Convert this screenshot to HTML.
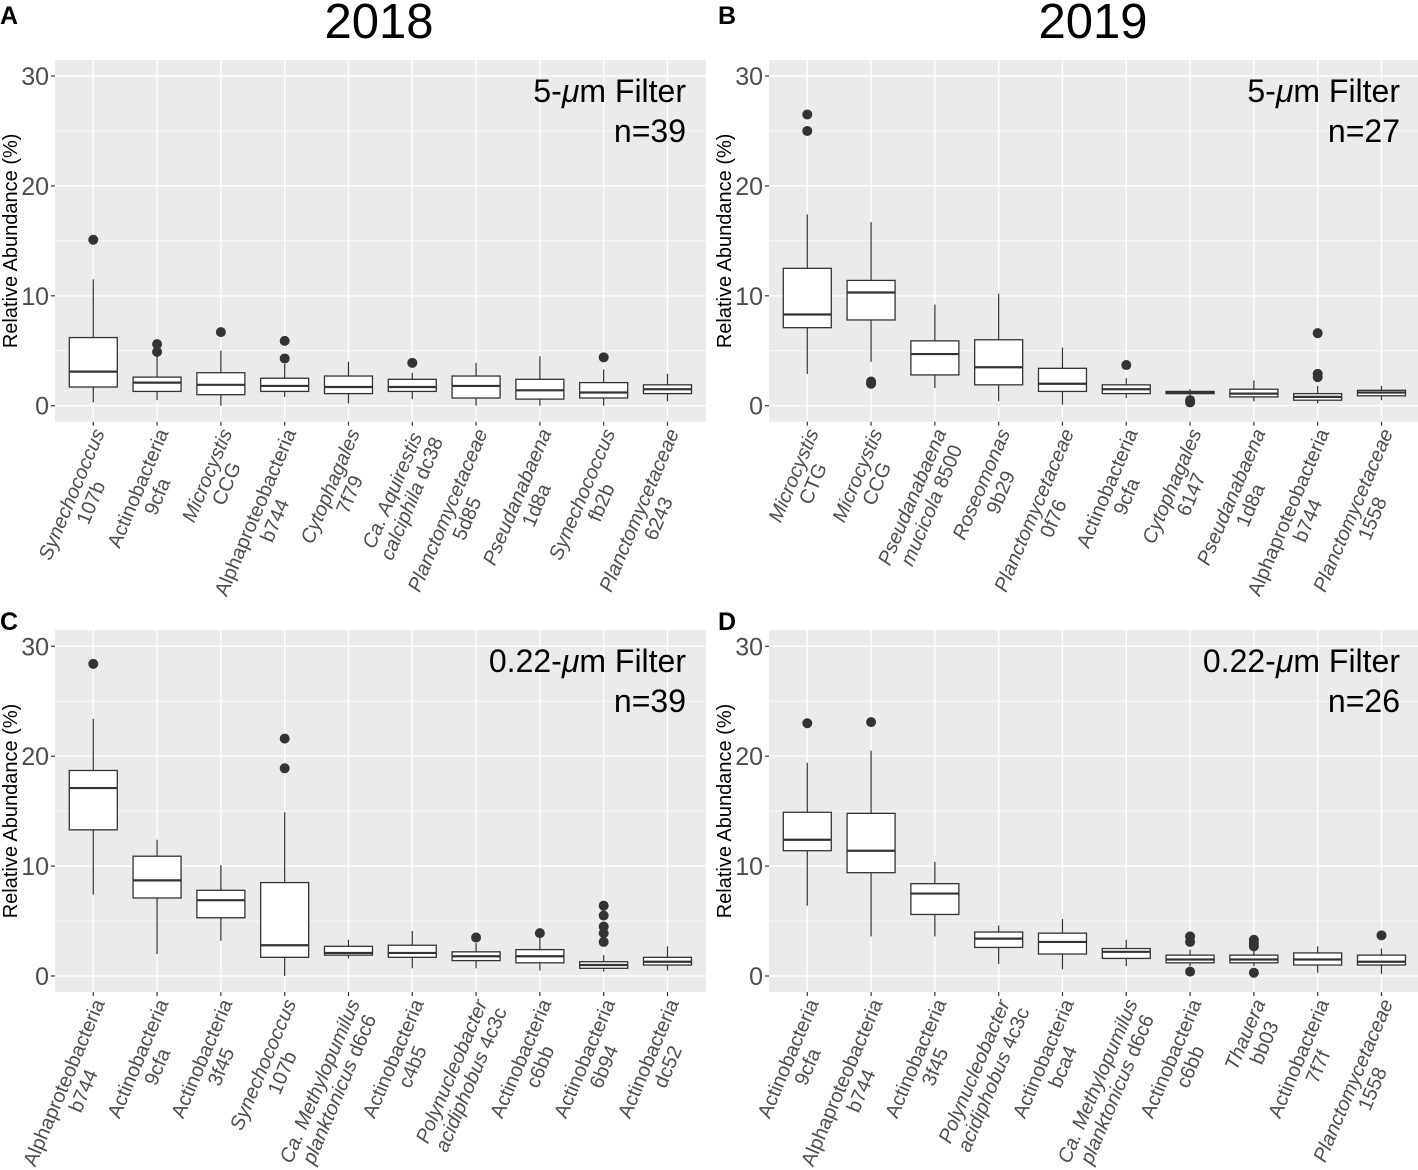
<!DOCTYPE html>
<html><head><meta charset="utf-8"><style>
body{margin:0;background:#fff}
svg{display:block}
text{font-family:"Liberation Sans",Arial,sans-serif}
</style></head><body>
<svg id="fig" width="1418" height="1170" xmlns="http://www.w3.org/2000/svg"></svg>
<script>
// Panel A data (2018, 5-um)
const catsA = [["Synechococcus|i","107b"],["Actinobacteria","9cfa"],["Microcystis|i","CCG"],["Alphaproteobacteria","b744"],["Cytophagales|i","7f79"],["Ca. Aquirestis|i","calciphila|i dc38"],["Planctomycetaceae|i","5d85"],["Pseudanabaena|i","1d8a"],["Synechococcus|i","fb2b"],["Planctomycetaceae|i","6243"]];
const q1A = [1.7,1.3,1.0,1.3,1.1,1.3,0.7,0.6,0.7,1.1];
const medA = [3.1,2.1,1.9,1.8,1.7,1.7,1.8,1.4,1.2,1.5];
const q3A = [6.2,2.6,3.0,2.5,2.7,2.4,2.7,2.4,2.1,1.9];
const loA = [0.3,0.5,0,0.8,0.2,0.6,0,0,0,0.4];
const hiA = [11.5,4.6,5.0,3.8,4.0,3.0,3.9,4.5,3.3,2.9];
const outA = [[15.1],[5.6,4.9],[6.7],[5.9,4.3],[],[3.9],[],[],[4.4],[]];
// Panel B data (2019, 5-um)
const catsB = [["Microcystis|i","CTG"],["Microcystis|i","CCG"],["Pseudanabaena|i","mucicola|i 8500"],["Roseomonas|i","9b29"],["Planctomycetaceae|i","0f76"],["Actinobacteria","9cfa"],["Cytophagales|i","6147"],["Pseudanabaena|i","1d8a"],["Alphaproteobacteria","b744"],["Planctomycetaceae|i","1558"]];
const q1B = [7.1,7.8,2.8,1.9,1.3,1.1,1.1,0.8,0.5,0.9];
const medB = [8.3,10.3,4.7,3.5,2.0,1.5,1.2,1.1,0.8,1.2];
const q3B = [12.5,11.4,5.9,6.0,3.4,1.9,1.3,1.5,1.1,1.4];
const loB = [2.9,4.0,1.6,0.4,0.1,0.7,0.9,0.4,0.2,0.5];
const hiB = [17.4,16.7,9.2,10.2,5.3,2.5,1.5,2.3,1.8,1.8];
const outB = [[26.5,25.0],[2.2,2.0],[],[],[],[3.7],[0.5,0.3],[],[6.6,2.9,2.6],[]];
// Panel C data (2018, 0.22-um)
const catsC = [["Alphaproteobacteria","b744"],["Actinobacteria","9cfa"],["Actinobacteria","3f45"],["Synechococcus|i","107b"],["Ca. Methylopumilus|i","planktonicus|i d6c6"],["Actinobacteria","c4b5"],["Polynucleobacter|i","acidiphobus|i 4c3c"],["Actinobacteria","c6bb"],["Actinobacteria","6b94"],["Actinobacteria","dc52"]];
const q1C = [13.3,7.1,5.3,1.7,1.9,1.7,1.4,1.2,0.7,1.0];
const medC = [17.1,8.7,6.9,2.8,2.1,2.1,1.8,1.8,1.0,1.3];
const q3C = [18.7,10.9,7.8,8.5,2.7,2.8,2.2,2.4,1.3,1.7];
const loC = [7.4,2.0,3.2,0,1.6,0.7,0.7,0.5,0.4,0.5];
const hiC = [23.4,12.4,10.1,14.9,3.3,4.1,3.0,3.5,1.9,2.7];
const outC = [[28.4],[],[],[21.6,18.9],[],[],[3.5],[3.9],[6.4,5.5,4.5,3.9,3.1],[]];
// Panel D data (2019, 0.22-um)
const catsD = [["Actinobacteria","9cfa"],["Alphaproteobacteria","b744"],["Actinobacteria","3f45"],["Polynucleobacter|i","acidiphobus|i 4c3c"],["Actinobacteria","bca4"],["Ca. Methylopumilus|i","planktonicus|i d6c6"],["Actinobacteria","c6bb"],["Thauera|i","bb03"],["Actinobacteria","7f7f"],["Planctomycetaceae|i","1558"]];
const q1D = [11.4,9.4,5.6,2.6,2.0,1.6,1.2,1.2,1.0,1.0];
const medD = [12.4,11.4,7.5,3.4,3.1,2.2,1.5,1.5,1.5,1.3];
const q3D = [14.9,14.8,8.4,4.0,3.9,2.5,1.9,1.9,2.1,1.9];
const loD = [6.4,3.6,3.6,1.1,0.6,0.9,0.9,0.9,0.3,0.2];
const hiD = [19.4,20.5,10.4,4.6,5.2,3.3,2.4,2.3,2.7,2.5];
const outD = [[23.0],[23.1],[],[],[],[],[3.6,3.1,0.4],[3.3,3.0,2.7,0.3],[],[3.7]];
const yTicks = [0,10,20,30];

const NS="http://www.w3.org/2000/svg";
const svg=document.getElementById('fig');
function mk(tag,attrs,parent){const e=document.createElementNS(NS,tag);for(const k in attrs)e.setAttribute(k,attrs[k]);(parent||svg).appendChild(e);return e;}

function panel(id,left,top,zeroY,cats,q1,med,q3,lo,hi,out,filt,n){
  const g=mk('g',{});
  
  
  const step=63.8, pw=651, bottom=zeroY+16, ppu=10.99;
  const x=i=>left+step*(0.6+i);
  const y=v=>zeroY-v*ppu;
  const bg=mk('rect',{x:left,y:top,width:pw,height:bottom-top,fill:'#ebebeb'},g);
  
  
  [5,15,25].forEach(v=>mk('line',{x1:left,x2:left+pw,y1:y(v),y2:y(v),stroke:'#fff','stroke-width':0.7},g));
  yTicks.forEach(v=>{
    mk('line',{x1:left,x2:left+pw,y1:y(v),y2:y(v),stroke:'#fff','stroke-width':1.4},g);
    mk('line',{x1:left-4,x2:left,y1:y(v),y2:y(v),stroke:'#333','stroke-width':1.2},g);
    const t=mk('text',{x:left-6,y:y(v)+9,'text-anchor':'end','font-size':25,fill:'#4d4d4d'},g);
    t.textContent=v;
    
    
  });
  cats.forEach((c,i)=>mk('line',{x1:x(i),x2:x(i),y1:top,y2:bottom,stroke:'#fff','stroke-width':1.4},g));
  const yt=mk('text',{x:0,y:0,'text-anchor':'middle','font-size':20,fill:'#000',transform:`translate(${left-38},${(top+bottom)/2}) rotate(-90)`},g);
  yt.textContent='Relative Abundance (%)';
  
  
  cats.forEach((c,i)=>{
    const bx=x(i), hw=24;
    const bg2=mk('g',{},g);
    
    
    mk('line',{x1:bx,x2:bx,y1:y(hi[i]),y2:y(q3[i]),stroke:'#333','stroke-width':1.2},bg2);
    mk('line',{x1:bx,x2:bx,y1:y(q1[i]),y2:y(lo[i]),stroke:'#333','stroke-width':1.2},bg2);
    mk('rect',{x:bx-hw,y:y(q3[i]),width:2*hw,height:y(q1[i])-y(q3[i]),fill:'#fff',stroke:'#333','stroke-width':1.3},bg2);
    mk('line',{x1:bx-hw,x2:bx+hw,y1:y(med[i]),y2:y(med[i]),stroke:'#333','stroke-width':2.2},bg2);
    out[i].forEach(v=>{const d=mk('circle',{cx:bx,cy:y(v),r:5,fill:'#333'},bg2);
      
      });
    mk('line',{x1:bx,x2:bx,y1:bottom,y2:bottom+4,stroke:'#333','stroke-width':1.2},g);
    const t=mk('text',{'text-anchor':'middle','font-size':20,fill:'#4d4d4d',transform:`translate(${bx-2},${bottom+5}) rotate(-67)`},g);
    
    
    const lines=[];
    c.forEach((line,li)=>{
      const ts=mk('tspan',{x:0,y:15+li*21},t);
      const parts=line.split(' ');
      let segs=[];
      if(line.startsWith('Ca. ')){segs.push([line.replace('|i',''),true]);}
      else parts.forEach((p,pi)=>{const it=p.endsWith('|i');segs.push([(pi?' ':'')+p.replace('|i',''),it]);});
      segs.forEach(s=>{const sp=mk('tspan',{'font-style':s[1]?'italic':'normal'},ts);sp.textContent=s[0];});
      lines.push(ts);
    });
    let mw=0;lines.forEach(l=>{mw=Math.max(mw,l.getComputedTextLength());});
    lines.forEach(l=>l.setAttribute('x',-mw/2));
  });
  const fx=left+pw-20;
  const f1=mk('text',{x:fx,y:top+42,'text-anchor':'end','font-size':32,fill:'#000'},g);
  
  
  f1.innerHTML=filt+'-<tspan font-style="italic">μ</tspan>m Filter';
  const f2=mk('text',{x:fx,y:top+82,'text-anchor':'end','font-size':32,fill:'#000'},g);
  
  
  f2.textContent='n='+n;
}
panel('a',55,60,405.7,catsA,q1A,medA,q3A,loA,hiA,outA,'5',39);
panel('b',769,60,405.7,catsB,q1B,medB,q3B,loB,hiB,outB,'5',27);
panel('c',55,630,976,catsC,q1C,medC,q3C,loC,hiC,outC,'0.22',39);
panel('d',769,630,976,catsD,q1D,medD,q3D,loD,hiD,outD,'0.22',26);

function label(txt,x,y,size,weight,name,anchor){const t=mk('text',{x:x,y:y,'font-size':size,'font-weight':weight,'text-anchor':anchor||'start',fill:'#000'});t.textContent=txt;
  
  }
label('2018',379,38,49,'normal','title-2018','middle');
label('2019',1093,38,49,'normal','title-2019','middle');
label('A',0,24,25,'bold','panel-letter-a');
label('B',718,24,25,'bold','panel-letter-b');
label('C',0,630,25,'bold','panel-letter-c');
label('D',718,630,25,'bold','panel-letter-d');
</script>
</body></html>
